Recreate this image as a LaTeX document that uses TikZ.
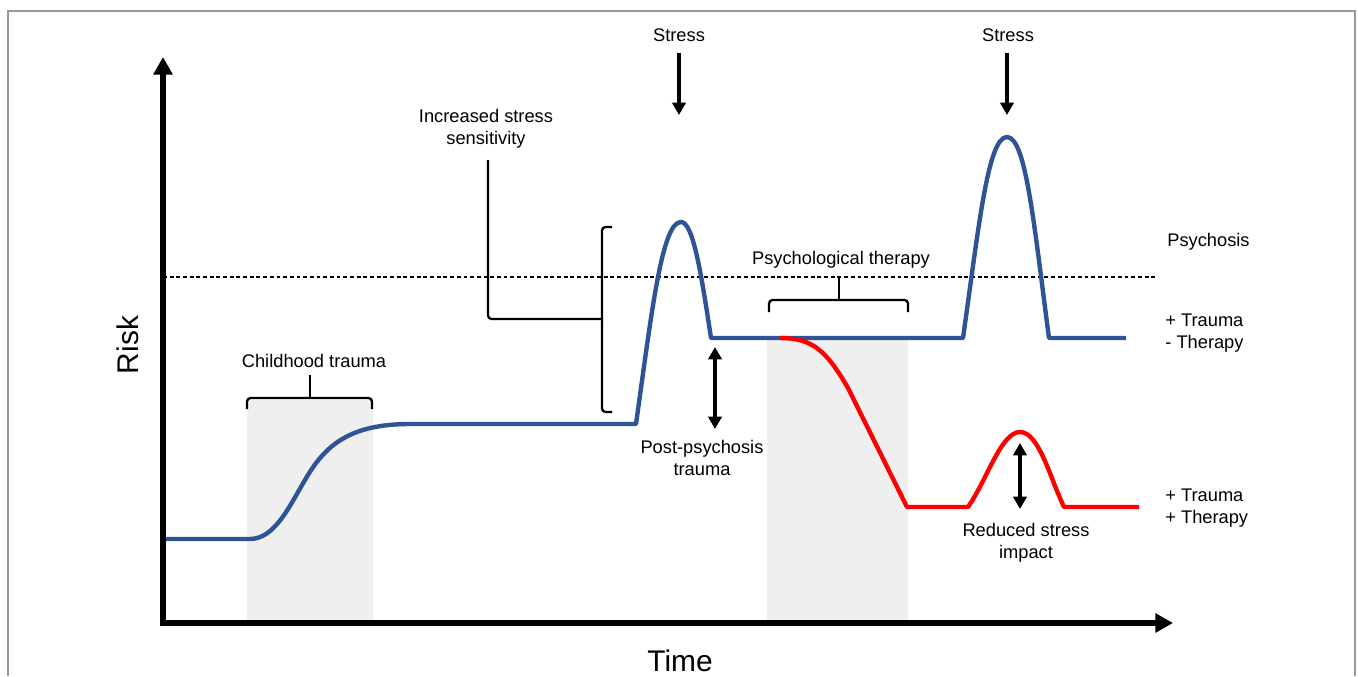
\documentclass[tikz,border=0pt]{standalone}
\usepackage{fontspec}
\setmainfont{Liberation Sans}
\usetikzlibrary{arrows.meta}
\definecolor{riskblue}{RGB}{46,84,150}
\definecolor{periodgray}{RGB}{239,239,239}

\begin{document}
\begin{tikzpicture}[x=0.2mm,y=-0.2mm,
        every node/.style={font=\fontsize{10.4}{12.8}\selectfont, align=center, inner sep=0pt},
        axisline/.style={line width=3.2pt, -{Triangle[length=10pt,width=10.5pt]}},
        stressarrow/.style={line width=2pt, -{Triangle[length=7pt,width=7.5pt]}},
        twoway/.style={line width=2pt, {Triangle[length=7pt,width=7.5pt]}-{Triangle[length=7pt,width=7.5pt]}},
        bracket/.style={line width=1.3pt, rounded corners=2pt},
        riskline/.style={line width=2.5pt, line join=round},
        sidetext/.style={anchor=west, align=left},
        big/.style={font=\fontsize{17}{20}\selectfont}]
        \useasboundingbox (0,0) rectangle (1358,676);
        \draw[gray!80, line width=0.7pt] (8,676) -- (8,11) -- (1355,11) -- (1355,676);
        % shaded periods
        \fill[periodgray] (247,400) rectangle (373,620);
        \fill[periodgray] (767,340) rectangle (908,620);
        % axes
        \coordinate (origin) at (163,623);
        \coordinate (ytip) at (163,57);
        \coordinate (xtip) at (1173,623);
        \draw[axisline] (163,626) -- (ytip);
        \draw[axisline] (160,623) -- (xtip);
        \node[big, rotate=90] (risk) at (128,345) {Risk};
        \node[big] (time) at (680,661) {Time};
        % psychosis threshold
        \draw[line width=0.6pt, dash pattern=on 2.2pt off 1.6pt] (163,277) -- (1155,277);
        % trajectories
        \draw[riskline, riskblue] (166,539) -- (250,539)
                .. controls (275,539) and (290,505) .. (305,480)
                .. controls (325,445) and (350,424) .. (410,424) -- (636,424)
                .. controls (652,310) and (662,222) .. (681,222)
                .. controls (693,222) and (701,272) .. (711,338) -- (963,338)
                .. controls (979,225) and (988,137) .. (1007,137)
                .. controls (1026,137) and (1034,225) .. (1049,338) -- (1126,338);
        \draw[riskline, red] (780,338) .. controls (812,338) and (826,350) .. (848,388)
                -- (907,507) -- (968,507)
                .. controls (987,480) and (1001,432) .. (1020,432)
                .. controls (1039,432) and (1050,478) .. (1064,507) -- (1139,507);
        % brackets
        \node (ct) at (314,361) {Childhood trauma};
        \draw[bracket] (247,409) -- (247,398) -- (372,398) -- (372,409);
        \draw[bracket] (310,398) -- (310,375);
        \node (pt) at (841,260) {Psychological therapy};
        \draw[bracket] (769,312) -- (769,300) -- (908,300) -- (908,312);
        \draw[bracket] (839,300) -- (839,277);
        \node (iss) at (486,129) {Increased stress\\sensitivity};
        \draw[bracket] (612,227) -- (602,227) -- (602,412) -- (612,412);
        \draw[bracket] (602,319) -- (488,319) -- (488,160);
        % stress events
        \node (stressa) at (679,35) {Stress};
        \node (stressb) at (1008,35) {Stress};
        \coordinate (a1) at (679,53);
        \coordinate (a2) at (679,115);
        \coordinate (b1) at (1007,53);
        \coordinate (b2) at (1007,115);
        \draw[stressarrow] (a1) -- (a2);
        \draw[stressarrow] (b1) -- (b2);
        % differences
        \coordinate (pp1) at (715,347);
        \coordinate (pp2) at (715,429);
        \draw[twoway] (pp1) -- (pp2);
        \node (ppt) at (702,458) {Post-psychosis\\trauma};
        \coordinate (rs1) at (1020,443);
        \coordinate (rs2) at (1020,509);
        \draw[twoway] (rs1) -- (rs2);
        \node (rsi) at (1026,543) {Reduced stress\\impact};
        % legend
        \node[sidetext] (psy) at (1167,242) {Psychosis};
        \node[sidetext] (notherapy) at (1165,333) {+ Trauma\\- Therapy};
        \node[sidetext] (therapy) at (1165,508) {+ Trauma\\+ Therapy};
\end{tikzpicture}
\end{document}
